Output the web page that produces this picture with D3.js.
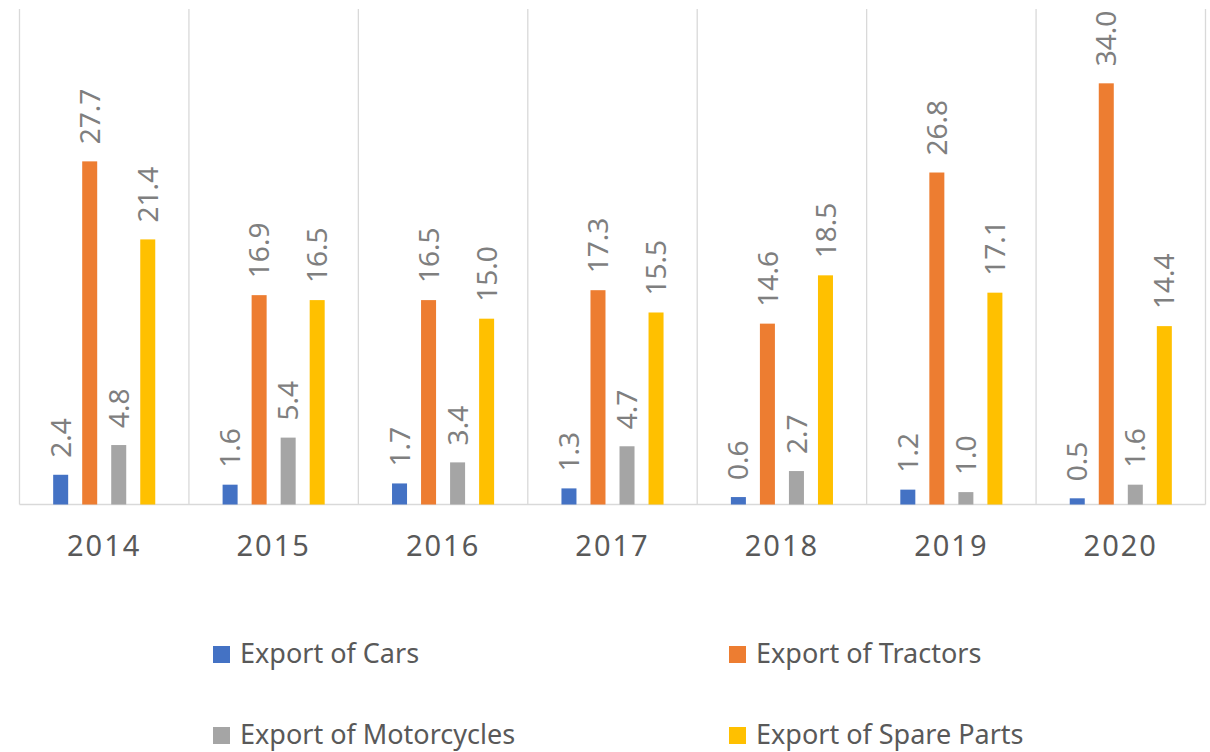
<!DOCTYPE html>
<html>
<head>
<meta charset="utf-8">
<script src="https://cdn.jsdelivr.net/npm/d3@7"></script>
<style>
  html, body { margin: 0; padding: 0; background: #fff; }
  svg { display: block; font-family: "Noto Sans", "Open Sans", sans-serif; }
</style>
</head>
<body>
<div id="chart"></div>
<script>
// --- data ---
const years = ["2014", "2015", "2016", "2017", "2018", "2019", "2020"];
const seriesNames = ["Export of Cars", "Export of Tractors", "Export of Motorcycles", "Export of Spare Parts"];
const seriesColors = ["#4472C4", "#ED7D31", "#A5A5A5", "#FFC000"];
const cars        = [2.4, 1.6, 1.7, 1.3, 0.6, 1.2, 0.5];
const tractors    = [27.7, 16.9, 16.5, 17.3, 14.6, 26.8, 34.0];
const motorcycles = [4.8, 5.4, 3.4, 4.7, 2.7, 1.0, 1.6];
const spareParts  = [21.4, 16.5, 15.0, 15.5, 18.5, 17.1, 14.4];
const seriesValues = [cars, tractors, motorcycles, spareParts];

const width = 1210, height = 752;
const plot = { left: 19.5, right: 1205.5, top: 9, bottom: 504.5 };

const svg = d3.select("#chart").append("svg")
  .attr("width", width)
  .attr("height", height);

// scales
const x0 = d3.scaleBand().domain(years).range([plot.left, plot.right]).padding(0);
const x1 = d3.scaleBand().domain(seriesNames).range([0, x0.bandwidth()])
  .paddingInner(0.483).paddingOuter(1.16);
const y = d3.scaleLinear().domain([0, 40]).range([plot.bottom, plot.top]);

// vertical gridlines between categories
const grid = svg.append("g").attr("stroke", "#d9d9d9").attr("stroke-width", 1.3);
const bounds = years.map(d => x0(d)).concat([x0(years[years.length - 1]) + x0.bandwidth()]);
grid.selectAll("line")
  .data(bounds)
  .join("line")
    .attr("x1", d => d).attr("x2", d => d)
    .attr("y1", plot.top).attr("y2", plot.bottom);

// baseline
svg.append("line")
  .attr("x1", plot.left).attr("x2", plot.right)
  .attr("y1", plot.bottom).attr("y2", plot.bottom)
  .attr("stroke", "#d9d9d9").attr("stroke-width", 1.3);

// bars + labels
const rows = years.map((yr, i) => ({
  year: yr,
  vals: seriesNames.map((s, k) => ({ name: s, value: seriesValues[k][i], color: seriesColors[k] }))
}));

const groups = svg.append("g").selectAll("g")
  .data(rows)
  .join("g")
    .attr("transform", d => `translate(${x0(d.year)},0)`);

groups.selectAll("rect")
  .data(d => d.vals)
  .join("rect")
    .attr("x", d => x1(d.name))
    .attr("width", x1.bandwidth())
    .attr("y", d => y(d.value))
    .attr("height", d => plot.bottom - y(d.value))
    .attr("fill", d => d.color);

groups.selectAll("text")
  .data(d => d.vals)
  .join("text")
    .attr("transform", d => `translate(${x1(d.name) + x1.bandwidth() / 2},${y(d.value) - 17}) rotate(-90)`)
    .attr("dy", "0.36em")
    .attr("fill", "#7f7f7f")
    .style("font-size", "28px")
    .text(d => d.value.toFixed(1));

// category labels
svg.append("g").selectAll("text")
  .data(years)
  .join("text")
    .attr("x", d => x0(d) + x0.bandwidth() / 2)
    .attr("y", 556)
    .attr("text-anchor", "middle")
    .attr("fill", "#595959")
    .style("font-size", "29px")
    .style("letter-spacing", "2px")
    .text(d => d);

// legend
const legendPos = [[213, 663], [729, 663], [213, 744], [729, 744]];
const legend = svg.append("g").selectAll("g")
  .data(seriesNames)
  .join("g")
    .attr("transform", (d, i) => `translate(${legendPos[i][0]},${legendPos[i][1]})`);

legend.append("rect")
  .attr("x", 0).attr("y", -17)
  .attr("width", 17).attr("height", 17)
  .attr("fill", (d, i) => seriesColors[i]);

legend.append("text")
  .attr("x", 27)
  .attr("y", 0)
  .attr("fill", "#595959")
  .style("font-size", "27px")
  .text(d => d);
</script>
</body>
</html>
